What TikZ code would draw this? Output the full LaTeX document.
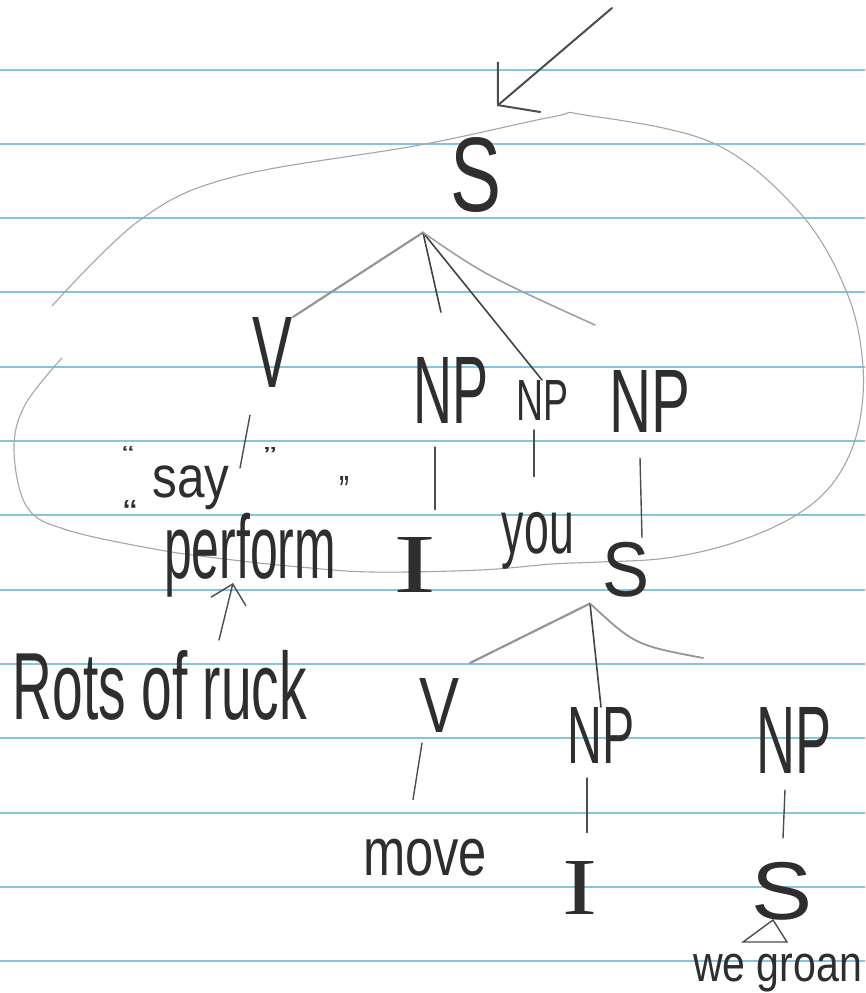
\documentclass[tikz,border=0pt]{standalone}
\usepackage{fontspec}
\usepackage{graphicx}
\setmainfont{Liberation Sans}
\newfontfamily\serifhw{Liberation Serif}
\usetikzlibrary{calc,arrows.meta}
\definecolor{rule}{HTML}{86C3DD}
\definecolor{ink}{HTML}{2E2E2E}
\definecolor{pencil}{HTML}{A5A5A5}
\newcommand{\fitbox}[3]{\resizebox*{#1pt}{#2pt}{#3}}
\tikzset{
  lab/.style={inner sep=0pt, outer sep=0pt, text=ink},
  penline/.style={draw=ink!85, line width=1.4pt, line cap=round},
  darkbranch/.style={draw=ink!90, line width=1.6pt, line cap=round},
  graybranch/.style={draw=ink!50, line width=2.2pt, line cap=round},
  pencilline/.style={draw=pencil, line width=1.1pt, line cap=round},
  ruled/.style={draw=rule, line width=1.8pt},
}
\begin{document}
\begin{tikzpicture}[x=1pt,y=-1pt]
\useasboundingbox (0,0) rectangle (865,993);
\fill[white] (0,0) rectangle (865,993);
\foreach \k in {0,...,12} {
  \pgfmathtruncatemacro{\yy}{70+74.3*\k}
  \draw[ruled] (0,\yy) -- (865,\yy);
}

% pencil loop
\draw[pencilline] plot[smooth, tension=0.6] coordinates {
  (52,306) (140,220) (233,177) (420,145) (552,117) (585,115)
  (713,143) (800,213) (847,293) (863,367) (857,433) (833,483) (793,517)
  (733,543) (667,558) (600,562) (552,564) (480,570) (372,572) (300,567)
  (233,560) (160,550) (67,530) (27,507) (14,450) (25,405) (62,358)};

% upper tree labels
\node[lab] (S1) at (476,175) {\fitbox{51}{75}{S}};
\node[lab] (V1) at (273,352) {\fitbox{40}{70}{V}};
\node[lab] (NP1) at (451,390) {\fitbox{75}{66}{NP}};
\node[lab] (NP2) at (542,400) {\fitbox{52}{40}{NP}};
\node[lab] (NP3) at (650,401) {\fitbox{81}{62}{NP}};
\node[lab] (say) at (191,488) {\fitbox{77}{44}{say}};
\node[lab] (perform) at (250,555) {\fitbox{172}{84}{perform}};
\node[lab] (q1) at (128,453) {\fitbox{12}{14}{“}};
\node[lab] (q2) at (270,455) {\fitbox{13}{16}{”}};
\node[lab] (q3) at (130,512) {\fitbox{14}{24}{“}};
\node[lab] (q4) at (344,490) {\fitbox{10}{28}{”}};
\node[lab] (I1) at (415,565) {\fitbox{43}{55}{\serifhw I}};
\node[lab] (you) at (538,541) {\fitbox{72}{57}{you}};
\node[lab] (S2) at (626,570) {\fitbox{47}{55}{S}};
\node[lab] (rots) at (160,685) {\fitbox{294}{70}{Rots of ruck}};

% lower tree labels
\node[lab] (V2) at (440,705) {\fitbox{40}{54}{V}};
\node[lab] (NP4) at (601,735) {\fitbox{67}{56}{NP}};
\node[lab] (NP5) at (794,740) {\fitbox{75}{66}{NP}};
\node[lab] (move) at (425,858) {\fitbox{124}{37}{move}};
\node[lab] (I2) at (580,888) {\fitbox{35}{53}{\serifhw I}};
\node[lab] (S3) at (782,891) {\fitbox{61}{58}{S}};
\node[lab, anchor=west] (wg) at (693,973) {\fitbox{169}{38}{we groan}};

% top arrow
\coordinate (atail) at (612,8);
\coordinate (atip) at (497,106);
\draw[penline, line width=2pt, -{Straight Barb[length=28pt,width=66pt]}] (atail) -- (atip);

% upper branches
\coordinate (a1) at ($(S1.south)+(-53,20)$);
\coordinate (r1) at (595,325);
\draw[graybranch] (a1) -- (V1.north east);
\draw[darkbranch, shorten >=46pt] (a1) -- (NP1.north);
\draw[darkbranch] (a1) -- (NP2.north);
\draw[pencilline, draw=ink!45, line width=1.6pt] (a1) .. controls (485,275) .. (r1);

% upper unary lines
\draw[penline] ($(V1.south)+(-23,28)$) -- ($(V1.south)+(-33,81)$);
\draw[penline] ($(NP1.south)+(-16,24)$) -- ($(I1.north)+(20,-28)$);
\draw[penline] ($(NP2.south)+(-8,10)$) -- ($(you.north)+(-4,-36)$);
\draw[penline] ($(NP3.south)+(-10,26)$) -- ($(S2.north)+(16,-5)$);

% perform arrow
\coordinate (ptail) at (219,640);
\draw[penline, -{Straight Barb[length=18pt,width=36pt]}] (ptail) -- ($(perform.south)+(-17,-14)$);

% lower branches
\coordinate (a2) at ($(S2.south)+(-36,6)$);
\coordinate (l2) at (470,663);
\coordinate (r2) at (703,658);
\draw[graybranch] (a2) -- (l2);
\draw[darkbranch] (a2) -- (NP4.north);
\draw[graybranch, line width=1.8pt] (a2) .. controls (635,645) .. (r2);

% lower unary lines
\draw[penline] ($(V2.south)+(-18,11)$) -- ($(move.north)+(-12,-40)$);
\draw[penline] ($(NP4.south)+(-14,15)$) -- ($(I2.north)+(7,-29)$);
\draw[penline] ($(NP5.south)+(-9,17)$) -- ($(S3.north)+(1,-24)$);

% triangle under S
\draw[penline] ($(S3.south)+(-9,0)$) -- ($(S3.south)+(-39,22)$) -- ($(S3.south)+(5,22)$) -- cycle;
\end{tikzpicture}
\end{document}
